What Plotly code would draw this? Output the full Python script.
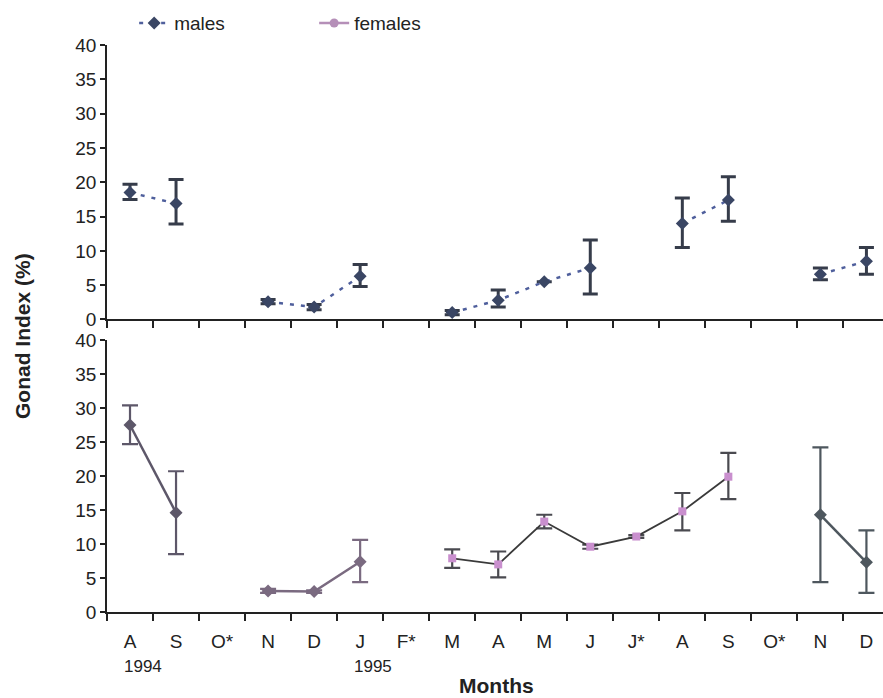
import plotly.graph_objects as go

# Month categories (Aug 1994 - Dec 1995); * marks months without sampling for one sex
months = ["A", "S", "O*", "N", "D", "J", "F*", "M", "A", "M", "J", "J*", "A", "S", "O*", "N", "D"]
years = ["1994", "1995"]
year_month_index = [0, 5]

# Gonad index (%) per month, with error-bar extents
males = [18.5, 16.9, None, 2.6, 1.8, 6.3, None, 1.0, 2.8, 5.5, 7.5, None, 14.0, 17.4, None, 6.6, 8.5]
males_err_up = [1.2, 3.5, 0, 0.3, 0.4, 1.7, 0, 0.3, 1.5, 0, 4.1, 0, 3.7, 3.4, 0, 0.9, 2.0]
males_err_down = [1.0, 3.0, 0, 0.3, 0.4, 1.5, 0, 0.3, 1.0, 0, 3.8, 0, 3.5, 3.1, 0, 0.8, 1.9]

females = [27.5, 14.6, None, 3.1, 3.0, 7.4, None, 7.9, 7.0, 13.3, 9.6, 11.1, 14.8, 19.9, None, 14.3, 7.3]
females_err_up = [2.9, 6.1, 0, 0.3, 0.2, 3.2, 0, 1.3, 1.9, 1.0, 0.3, 0.2, 2.7, 3.5, 0, 9.9, 4.7]
females_err_down = [2.8, 6.1, 0, 0.3, 0.2, 3.0, 0, 1.4, 1.9, 1.0, 0.3, 0.2, 2.8, 3.3, 0, 9.9, 4.5]

x = list(range(len(months)))
FONT = "Liberation Sans, Arial, sans-serif"
INK = "#222222"

fig = go.Figure()

# Males (upper panel)
fig.add_trace(go.Scatter(
    x=x, y=males, name="males", mode="lines+markers",
    xaxis="x2", yaxis="y", connectgaps=False,
    line=dict(color="#4f5f9c", width=2.5, dash="4px,7px"),
    marker=dict(symbol="diamond", size=10, color="#3a4664"),
    error_y=dict(type="data", symmetric=False, array=males_err_up,
                 arrayminus=males_err_down, color="#363c4a", thickness=3, width=7.5),
))

# Females (lower panel), drawn as the sampled stretches of the series
segments = [
    (0, 2, "#5d5769", "#5d5769", "diamond", 10),
    (3, 6, "#7a6a80", "#7a6a80", "diamond", 10),
    (7, 14, "#3a3a3a", "#c98fce", "square", 8),
    (15, 17, "#4e575e", "#4e575e", "diamond", 10),
]
for start, stop, line_col, mark_col, sym, size in segments:
    err_col = line_col if line_col != "#3a3a3a" else "#4a4a50"
    fig.add_trace(go.Scatter(
        x=x[start:stop], y=females[start:stop], mode="lines+markers",
        xaxis="x", yaxis="y2", showlegend=False,
        line=dict(color=line_col, width=2.5 if line_col != "#3a3a3a" else 1.8),
        marker=dict(symbol=sym, size=size, color=mark_col),
        error_y=dict(type="data", symmetric=False, array=females_err_up[start:stop],
                     arrayminus=females_err_down[start:stop], color=err_col,
                     thickness=2.2, width=8),
    ))

# Legend entry for females
fig.add_trace(go.Scatter(
    x=[None], y=[None], name="females", mode="lines+markers",
    xaxis="x", yaxis="y2",
    line=dict(color="#b58fb8", width=2.5),
    marker=dict(symbol="circle", size=9, color="#b58fb8"),
))

xrange = [-0.5, 16.36]
xcommon = dict(
    range=xrange, showline=True, linecolor=INK, linewidth=2,
    showgrid=False, zeroline=False, ticks="", automargin=False,
    minor=dict(tickmode="linear", tick0=0.5, dtick=1, ticks="outside",
               ticklen=7, tickwidth=1.5, tickcolor=INK, showgrid=False),
)
ycommon = dict(
    range=[0, 40], dtick=5, showline=True, linecolor=INK, linewidth=1.5,
    ticks="outside", ticklen=5, tickwidth=1.5, tickcolor=INK,
    showgrid=False, zeroline=False, automargin=False,
    tickfont=dict(family=FONT, size=19, color=INK),
)

fig.update_layout(
    width=883, height=698,
    margin=dict(l=107, r=0, t=0, b=0, autoexpand=False),
    paper_bgcolor="white", plot_bgcolor="white",
    font=dict(family=FONT, color=INK),
    xaxis=dict(**xcommon, anchor="y2", tickmode="array", tickvals=x, ticktext=months,
               tickfont=dict(family=FONT, size=19, color=INK), ticklabelstandoff=11),
    xaxis2=dict(**xcommon, anchor="y", showticklabels=False, matches="x"),
    yaxis=dict(**ycommon, domain=[0.5423, 0.9355], anchor="x2"),
    yaxis2=dict(**ycommon, domain=[0.1232, 0.5129], anchor="x"),
    legend=dict(orientation="h", x=0.035, xanchor="left", y=0.994, yanchor="top",
                font=dict(family=FONT, size=19, color=INK),
                entrywidth=135, entrywidthmode="pixels", bgcolor="rgba(0,0,0,0)"),
    showlegend=True,
)

# Year labels under the first month of each year
for yr, idx in zip(years, year_month_index):
    fig.add_annotation(x=idx - 0.17, y=1 - 666 / 698, xref="x", yref="paper",
                       text=yr, showarrow=False, xanchor="left", yanchor="middle",
                       font=dict(family=FONT, size=17, color=INK))

fig.add_annotation(x=(496 - 107) / 776, y=0, xref="paper", yref="paper",
                   text="<b>Months</b>", showarrow=False, xanchor="center", yanchor="bottom",
                   borderpad=0, font=dict(family=FONT, size=21, color=INK))
fig.add_annotation(x=(23 - 107) / 776, y=1 - 336 / 698, xref="paper", yref="paper",
                   text="<b>Gonad Index (%)</b>", showarrow=False, textangle=-90,
                   xanchor="center", yanchor="middle",
                   font=dict(family=FONT, size=21, color=INK))

fig.write_html("out.html")
